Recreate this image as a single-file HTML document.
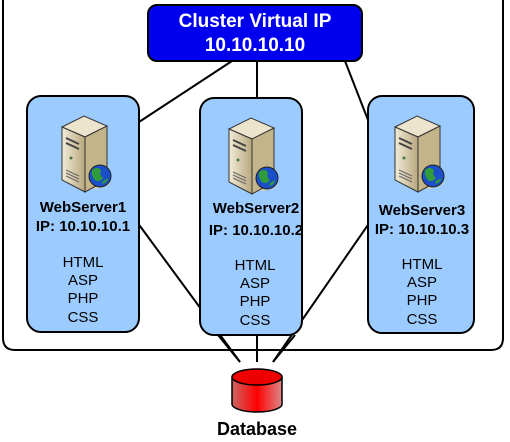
<!DOCTYPE html><html><head><style>body{margin:0;background:#fff}text{font-family:"Liberation Sans",Arial,sans-serif}</style></head><body>
<svg width="510" height="437" viewBox="0 0 510 437" xmlns="http://www.w3.org/2000/svg">
<defs>
<linearGradient id="srv" x1="0" x2="1"><stop offset="0" stop-color="#f2ecd8"/><stop offset="1" stop-color="#b8a77e"/></linearGradient>
<linearGradient id="db" x1="0" x2="1"><stop offset="0" stop-color="#c66"/><stop offset=".5" stop-color="#f00"/><stop offset="1" stop-color="#d88"/></linearGradient>
<g id="server">
<ellipse cx="8" cy="52" rx="20" ry="7" fill="#d8cfb2"/>
<polygon points="-20,-3 2,-14 25,-4 3,7" fill="#ece4cc" stroke="#333" stroke-width="1"/>
<polygon points="-20,-3 3,7 3,62 -20,50" fill="url(#srv)" stroke="#333" stroke-width="1"/>
<polygon points="3,7 25,-4 25,50 3,62" fill="#c4b489" stroke="#333" stroke-width="1"/>
<line x1="-16" y1="8" x2="-3" y2="14" stroke="#444" stroke-width="2"/>
<line x1="-16" y1="13" x2="-3" y2="19" stroke="#444" stroke-width="2"/>
<circle cx="-11" cy="28" r="1.5" fill="#474"/>
<line x1="-16" y1="40" x2="-3" y2="46" stroke="#666"/><line x1="-16" y1="43" x2="-3" y2="49" stroke="#666"/><line x1="-16" y1="46" x2="-3" y2="52" stroke="#666"/>
<circle cx="18" cy="46" r="11" fill="#1b4fc9" stroke="#222"/>
<path d="M10,40 q5,-4 9,0 q-2,5 2,8 q-4,5 -8,2 q-4,-4 -3,-10z M20,52 q3,-2 6,-4 q0,4 -5,6z" fill="#2f9b3a"/>
</g>
</defs>
<path d="M3,0 V338 Q3,350 15,350 H491 Q503,350 503,338 V0" fill="none" stroke="#000" stroke-width="2"/>
<g stroke="#000" stroke-width="2" fill="none">
<line x1="232" y1="61" x2="139" y2="122"/>
<line x1="257" y1="61" x2="257" y2="98"/>
<line x1="345" y1="61" x2="368" y2="120"/>
<line x1="137" y1="222" x2="240" y2="362"/>
<line x1="370" y1="222" x2="273" y2="362"/>
<line x1="218" y1="335" x2="240" y2="362"/>
<line x1="257" y1="335" x2="257" y2="362"/>
<line x1="295" y1="335" x2="273" y2="362"/>
</g>
<rect x="148" y="5" width="214" height="56" rx="9" fill="#0000ee" stroke="#000" stroke-width="2"/>
<text x="255" y="27" text-anchor="middle" font-size="19" font-weight="bold" fill="#fff">Cluster Virtual IP</text>
<text x="255" y="51" text-anchor="middle" font-size="19" font-weight="bold" fill="#fff">10.10.10.10</text>
<rect x="27" y="96" width="112" height="236" rx="14" fill="#9ccbff" stroke="#000" stroke-width="2"/>
<rect x="200" y="98" width="102" height="237" rx="14" fill="#9ccbff" stroke="#000" stroke-width="2"/>
<rect x="368" y="96" width="106" height="237" rx="14" fill="#9ccbff" stroke="#000" stroke-width="2"/>
<use href="#server" x="82" y="130"/>
<use href="#server" x="249" y="132"/>
<use href="#server" x="415" y="130"/>
<g font-size="15" font-weight="bold" text-anchor="middle" fill="#000">
<text x="83" y="212">WebServer1</text><text x="83" y="231">IP: 10.10.10.1</text>
<text x="256" y="213">WebServer2</text><text x="256" y="235">IP: 10.10.10.2</text>
<text x="422" y="215">WebServer3</text><text x="422" y="234">IP: 10.10.10.3</text>
</g>
<g font-size="15" text-anchor="middle" fill="#000">
<text x="83" y="267">HTML</text><text x="83" y="285">ASP</text><text x="83" y="303">PHP</text><text x="83" y="322">CSS</text>
<text x="255" y="270">HTML</text><text x="255" y="288">ASP</text><text x="255" y="306">PHP</text><text x="255" y="325">CSS</text>
<text x="422" y="269">HTML</text><text x="422" y="287">ASP</text><text x="422" y="305">PHP</text><text x="422" y="324">CSS</text>
</g>
<path d="M232,377 V404 A25,8 0 0 0 282,404 V377" fill="url(#db)" stroke="#000" stroke-width="1.5"/>
<ellipse cx="257" cy="377" rx="25" ry="8" fill="#e00" stroke="#000" stroke-width="1.5"/>
<text x="257" y="435" text-anchor="middle" font-size="18" font-weight="bold">Database</text>
</svg>
</body></html>
